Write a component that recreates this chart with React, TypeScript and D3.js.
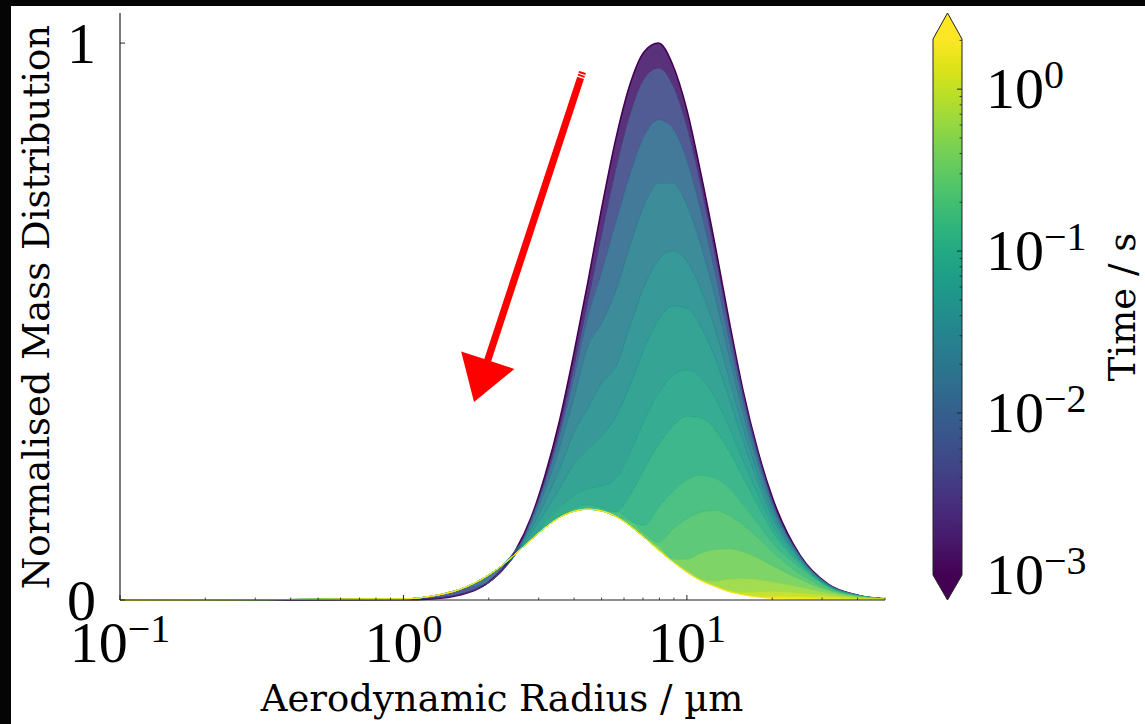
import React from 'react';
import * as d3 from 'd3';

// Aerodynamic radius grid (µm)
const radius = [0.1, 1.0, 1.26, 1.58, 2.0, 2.24, 2.51, 2.82, 3.16, 3.55, 3.98, 4.47, 5.01, 5.62, 6.31, 7.08, 7.94, 8.91, 10.0, 11.2, 12.6, 14.1, 15.8, 17.8, 20.0, 25.1, 31.6, 39.8, 50.0];
// Output times (s)
const times = [0.001, 0.003, 0.01, 0.02, 0.035, 0.05, 0.075, 0.1, 0.15, 0.2, 0.3, 0.5, 0.8, 1.2, 2.0];

const massT0001 = [0, 0.0004, 0.002, 0.009, 0.032, 0.056, 0.093, 0.148, 0.224, 0.321, 0.439, 0.570, 0.705, 0.829, 0.927, 0.985, 1.0, 0.961, 0.880, 0.766, 0.635, 0.501, 0.375, 0.268, 0.185, 0.080, 0.028, 0.009, 0.002];
const massT0003 = [0, 0.0008, 0.0029, 0.010, 0.031, 0.053, 0.087, 0.145, 0.216, 0.307, 0.417, 0.537, 0.659, 0.776, 0.874, 0.937, 0.955, 0.925, 0.851, 0.745, 0.620, 0.491, 0.369, 0.264, 0.179, 0.079, 0.028, 0.009, 0.002];
const massT001 = [0, 0.002, 0.007, 0.019, 0.032, 0.056, 0.085, 0.142, 0.210, 0.295, 0.397, 0.509, 0.591, 0.680, 0.766, 0.834, 0.862, 0.847, 0.790, 0.699, 0.587, 0.468, 0.355, 0.255, 0.175, 0.078, 0.0275, 0.009, 0.002];
const massT002 = [0, 0.002, 0.007, 0.019, 0.045, 0.063, 0.085, 0.137, 0.198, 0.273, 0.361, 0.456, 0.498, 0.557, 0.638, 0.710, 0.749, 0.749, 0.710, 0.638, 0.543, 0.439, 0.335, 0.244, 0.168, 0.076, 0.027, 0.0088, 0.002];
const massT0035 = [0, 0.002, 0.007, 0.019, 0.045, 0.063, 0.092, 0.128, 0.177, 0.235, 0.299, 0.345, 0.390, 0.420, 0.493, 0.564, 0.611, 0.627, 0.608, 0.558, 0.485, 0.398, 0.309, 0.227, 0.158, 0.073, 0.026, 0.0085, 0.002];
const massT005 = [0, 0.002, 0.007, 0.019, 0.045, 0.063, 0.085, 0.120, 0.158, 0.200, 0.243, 0.270, 0.295, 0.330, 0.387, 0.453, 0.503, 0.528, 0.524, 0.491, 0.434, 0.362, 0.285, 0.212, 0.149, 0.071, 0.0255, 0.0083, 0.002];
const massT0075 = [0, 0.002, 0.007, 0.019, 0.045, 0.063, 0.085, 0.112, 0.139, 0.165, 0.187, 0.200, 0.205, 0.218, 0.266, 0.323, 0.371, 0.403, 0.413, 0.398, 0.362, 0.310, 0.250, 0.190, 0.136, 0.067, 0.0245, 0.008, 0.002];
const massT01 = [0, 0.002, 0.007, 0.019, 0.045, 0.063, 0.085, 0.109, 0.132, 0.151, 0.165, 0.171, 0.166, 0.158, 0.189, 0.236, 0.279, 0.312, 0.330, 0.327, 0.305, 0.267, 0.220, 0.170, 0.124, 0.064, 0.024, 0.0078, 0.002];
const massT015 = [0, 0.002, 0.007, 0.019, 0.045, 0.063, 0.085, 0.108, 0.130, 0.148, 0.159, 0.163, 0.160, 0.160, 0.142, 0.134, 0.166, 0.195, 0.216, 0.224, 0.219, 0.200, 0.171, 0.137, 0.103, 0.058, 0.0227, 0.0075, 0.002];
const massT02 = [0, 0.002, 0.007, 0.019, 0.045, 0.063, 0.085, 0.108, 0.130, 0.148, 0.159, 0.163, 0.160, 0.150, 0.142, 0.120, 0.104, 0.127, 0.146, 0.158, 0.161, 0.152, 0.135, 0.112, 0.0865, 0.047, 0.020, 0.0072, 0.002];
const massT03 = [0, 0.002, 0.007, 0.019, 0.045, 0.063, 0.085, 0.108, 0.130, 0.148, 0.159, 0.163, 0.160, 0.150, 0.133, 0.112, 0.097, 0.074, 0.0733, 0.0844, 0.091, 0.092, 0.0865, 0.0757, 0.0617, 0.037, 0.0173, 0.0068, 0.002];
const massT05 = [0, 0.002, 0.007, 0.019, 0.045, 0.063, 0.085, 0.108, 0.130, 0.148, 0.159, 0.163, 0.160, 0.150, 0.133, 0.112, 0.090, 0.069, 0.054, 0.038, 0.034, 0.0379, 0.039, 0.0374, 0.0332, 0.0237, 0.013, 0.0057, 0.0018];
const massT08 = [0, 0.002, 0.007, 0.019, 0.045, 0.063, 0.085, 0.108, 0.130, 0.148, 0.159, 0.163, 0.160, 0.150, 0.133, 0.112, 0.090, 0.069, 0.050, 0.035, 0.026, 0.017, 0.0142, 0.015, 0.0158, 0.0131, 0.0084, 0.0042, 0.0015];
const massT12 = [0, 0.002, 0.007, 0.019, 0.045, 0.063, 0.085, 0.108, 0.130, 0.148, 0.159, 0.163, 0.160, 0.150, 0.133, 0.112, 0.090, 0.069, 0.050, 0.035, 0.024, 0.015, 0.010, 0.0065, 0.0066, 0.0065, 0.0044, 0.0024, 0.001];
const massT20 = [0, 0.002, 0.007, 0.019, 0.045, 0.063, 0.085, 0.108, 0.130, 0.148, 0.159, 0.163, 0.160, 0.150, 0.133, 0.112, 0.090, 0.069, 0.050, 0.035, 0.024, 0.015, 0.009, 0.005, 0.003, 0.0018, 0.0014, 0.0009, 0.0004];

const curves = [massT0001, massT0003, massT001, massT002, massT0035, massT005, massT0075, massT01, massT015, massT02, massT03, massT05, massT08, massT12, massT20];

const xTicks = [0.1, 1, 10];
const xTickExp = ['\u22121', '0', '1'];
const yTicks = [0, 1];
const yTickLabels = ['0', '1'];
const cbTicks = [0.001, 0.01, 0.1, 1];
const cbTickExp = ['\u22123', '\u22122', '\u22121', '0'];

const TICK_FONT = "'Liberation Serif', 'Times New Roman', serif";
const LABEL_FONT = "'DejaVu Serif', serif";

export default function App() {
  const W = 1145, H = 724;
  const x = d3.scaleLog().domain([0.1, 50]).range([120, 885]);
  const y = d3.scaleLinear().domain([0, 1.054]).range([600, 13]);
  const cb = d3.scaleLog().domain([0.001, 2.04]).range([575, 39]);
  const norm = d3.scaleLog().domain([0.001, 2.04]).range([0, 1]).clamp(true);
  const color = (t: number) => d3.interpolateViridis(norm(t));

  const line = d3.line<number>()
    .x((_, i) => x(radius[i]))
    .y((v) => y(v))
    .curve(d3.curveMonotoneX);

  const band = (lo: number[], hi: number[]) =>
    d3.area<number>()
      .x((_, i) => x(radius[i]))
      .y0((_, i) => y(lo[i]))
      .y1((_, i) => y(hi[i]))
      .curve(d3.curveMonotoneX)(lo) as string;

  const xMinor: number[] = [];
  [0.1, 1, 10].forEach((d) => {
    for (let k = 2; k <= 9; k++) if (d * k <= 50) xMinor.push(d * k);
  });
  const cbMinor: number[] = [];
  [0.001, 0.01, 0.1, 1].forEach((d) => {
    for (let k = 2; k <= 9; k++) if (d * k <= 2.04) cbMinor.push(d * k);
  });

  const stops = d3.range(0, 1.0001, 0.05);

  // arrow annotation geometry
  const tail = [582.5, 72];
  const tip = [474, 402];
  const dx = tip[0] - tail[0], dy = tip[1] - tail[1];
  const len = Math.hypot(dx, dy);
  const u = [dx / len, dy / len];
  const n = [-u[1], u[0]];
  const hw = 3.6, headL = 44, headW = 28;
  const base = [tip[0] - u[0] * headL, tip[1] - u[1] * headL];
  const arrowPts = [
    [tail[0] + n[0] * hw, tail[1] + n[1] * hw],
    [base[0] + n[0] * hw, base[1] + n[1] * hw],
    [base[0] + n[0] * headW, base[1] + n[1] * headW],
    tip,
    [base[0] - n[0] * headW, base[1] - n[1] * headW],
    [base[0] - n[0] * hw, base[1] - n[1] * hw],
    [tail[0] - n[0] * hw, tail[1] - n[1] * hw],
  ];
  const stripe = (d: number) => {
    const c = [tail[0] + u[0] * d, tail[1] + u[1] * d];
    return `M${c[0] + n[0] * 6},${c[1] + n[1] * 6}L${c[0] - n[0] * 6},${c[1] - n[1] * 6}`;
  };

  return (
    <svg width={W} height={H} style={{ position: 'absolute', left: 0, top: 0, background: '#fff' }}>
      <defs>
        <linearGradient id="vir" x1="0" y1="1" x2="0" y2="0">
          {stops.map((s) => (
            <stop key={s} offset={s} stopColor={d3.interpolateViridis(s)} />
          ))}
        </linearGradient>
        <clipPath id="plotclip">
          <rect x={120} y={0} width={765} height={601} />
        </clipPath>
      </defs>
      <rect x={0} y={0} width={W} height={H} fill="#fff" />

      <g clipPath="url(#plotclip)">
        {curves.slice(1).map((c, i) => (
          <path key={'b' + i} d={band(c, curves[i])}
            fill={color(Math.sqrt(times[i] * times[i + 1]))} fillOpacity={0.9} stroke="none" />
        ))}
        {curves.map((c, i) => (
          <path key={'l' + i} d={line(c) as string} fill="none" stroke={color(times[i])}
            strokeWidth={i === 0 ? 1.6 : 1} />
        ))}
      </g>

      {/* axes */}
      <line x1={120} x2={885} y1={600} y2={600} stroke="#222" strokeWidth={1.2} />
      <line x1={120} x2={120} y1={13} y2={600} stroke="#222" strokeWidth={1.2} />
      {xTicks.map((t) => (
        <line key={'xt' + t} x1={x(t)} x2={x(t)} y1={600} y2={595} stroke="#222" />
      ))}
      {xMinor.map((t) => (
        <line key={'xm' + t} x1={x(t)} x2={x(t)} y1={600} y2={597.5} stroke="#222" strokeWidth={0.8} />
      ))}
      {yTicks.map((t) => (
        <line key={'yt' + t} x1={120} x2={125} y1={y(t)} y2={y(t)} stroke="#222" />
      ))}

      {xTicks.map((t, i) => (
        <text key={'xl' + t} x={x(t)} y={662} textAnchor="middle" fontFamily={TICK_FONT} fontSize={58} fill="#000">
          10<tspan dy={-20} fontSize={40}>{xTickExp[i]}</tspan>
        </text>
      ))}
      {yTicks.map((t, i) => (
        <text key={'yl' + t} x={96} y={y(t) + 20} textAnchor="end" fontFamily={TICK_FONT} fontSize={58} fill="#000">
          {yTickLabels[i]}
        </text>
      ))}

      <text x={502} y={711} textAnchor="middle" fontFamily={LABEL_FONT} fontSize={37} fill="#000">
        Aerodynamic Radius / µm
      </text>
      <text transform="translate(49,307) rotate(-90)" textAnchor="middle" fontFamily={LABEL_FONT} fontSize={37} fill="#000">
        Normalised Mass Distribution
      </text>

      <polygon points={arrowPts.map((p) => p.join(',')).join(' ')} fill="#ff0000" />
      <path d={stripe(2.5) + stripe(5.5)} stroke="#fff" strokeWidth={1.2} />

      {/* colorbar */}
      <rect x={933} y={39} width={29} height={536} fill="url(#vir)" />
      <path d="M933,39 L947.5,13 L962,39 Z" fill={d3.interpolateViridis(1)} />
      <path d="M933,575 L947.5,600 L962,575 Z" fill={d3.interpolateViridis(0)} />
      <path d="M933,39 L947.5,13 L962,39 L962,575 L947.5,600 L933,575 Z" fill="none" stroke="#222" strokeWidth={1} />
      {cbTicks.map((t) => (
        <line key={'ct' + t} x1={962} x2={957} y1={cb(t)} y2={cb(t)} stroke="#222" />
      ))}
      {cbMinor.map((t) => (
        <line key={'cm' + t} x1={962} x2={959.5} y1={cb(t)} y2={cb(t)} stroke="#222" strokeWidth={0.8} />
      ))}
      {cbTicks.map((t, i) => (
        <text key={'cl' + t} x={986} y={cb(t) + 19} fontFamily={TICK_FONT} fontSize={58} fill="#000">
          10<tspan dy={-20} fontSize={40}>{cbTickExp[i]}</tspan>
        </text>
      ))}
      <text transform="translate(1135,307) rotate(-90)" textAnchor="middle" fontFamily={LABEL_FONT} fontSize={37} fill="#000">
        Time / s
      </text>

      <rect x={0} y={0} width={W} height={6} fill="#050505" />
      <rect x={0} y={0} width={11} height={H} fill="#050505" />
    </svg>
  );
}
